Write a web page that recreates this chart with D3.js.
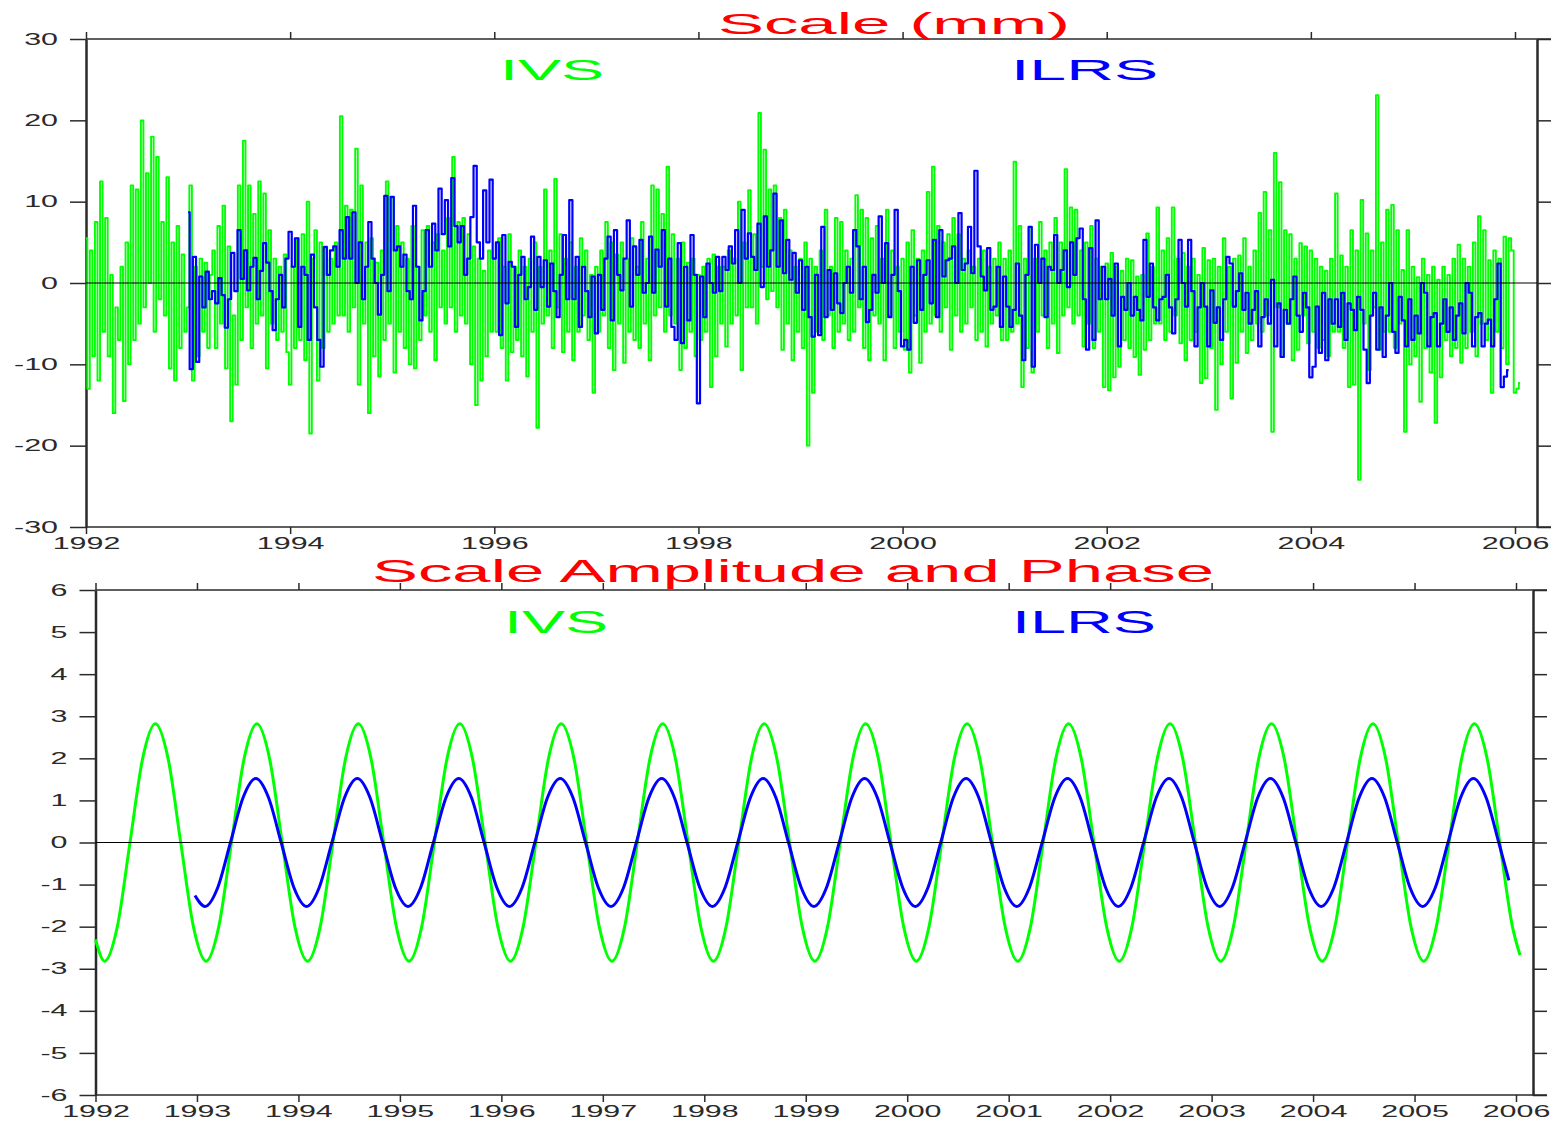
<!DOCTYPE html>
<html>
<head>
<meta charset="utf-8">
<script src="https://cdnjs.cloudflare.com/ajax/libs/d3/7.8.5/d3.min.js"></script>
<style>
  body { margin: 0; background: #fff; }
  svg { display: block; font-family: "Liberation Sans", Arial, sans-serif; }
</style>
</head>
<body>
<div id="chart"></div>
<script>
// ---- data ----
// top panel: scale series (mm), IVS sampled every 1/40 yr from 1992.0, ILRS every 1/32 yr from 1993.0
const ivsStart = 1992.0, ivsStep = 1 / 40;
const ivsScale = [
  5.5,-13,4,-9,7.5,-12,12.5,-6,8,-9, 1,-16,-3,-7,2,-14.5,5,-10,12,-7, 11.5,-5,20,-3,13.5,0,18,-6,15.5,-2, 7.5,-4,13,-10.5,5,-12,7,-8,3.5,-6,
  -3,12,-12,2,-9,3,-6,2.5,-8,1, 4,-8,7,-5,9.5,-10.5,4.5,-17,-4,-12.5, 12,-7,17.5,-3,12,-8,8.5,-5,12.5,-4, 11,-10.5,6.5,-5,3,-7,2,-6,3.5,-8.5,
  -12.5,2,-8,5.5,-7,6,-9.5,10,-18.5,3, 6.5,-12,5,-8,4.5,-6,3,-5,5,-4, 20.5,-4,9.5,-6,9,-3,16.5,-12.5,12,-5, 5,-16,5.5,-9,2.5,-11.5,4,-7,12.5,-5,
  10.5,-11,7,-6,5,-8,3,-10,7,-10.5, 2,-7,6.5,-4,7,-6,5,-9.5,6,-3, 4,-5,8,-3,15.5,-6,7.5,-4,8,-5, 6,-10,4.5,-15,3,-12,1.5,-9,4,-6,
  3,-6,5.5,-8,2,-12,6,-8.5,2,-7, 4,-9,2,-11.5,3,-6,5,-17.8,2,-5, 11.5,-4,4,-8,12.8,-3,6,-8.5,3,-6, 5,-9.5,2,-6,5.5,-4,4,-7,1,-13.5,
  2,-6,4,-4,7.5,-8,5,-10.7,3.5,-5, 5,-9.8,3,-6,5.5,-7,2,-8,7.5,-5, 3,-9.5,12,-4,11.5,-3,8.5,-6,14.3,-4, 6,-5,3,-10.7,5,-8,2.5,-6,3,-9,
  1,-7,2,-6,3,-12.8,3.5,-9,2,-5, 2,-7.8,4,-5,3,-4,10,-10.7,5,-3, 11.4,-3,6,-5,20.9,2,16.4,-2,11.5,-1, 12,-3,8,-8.2,9,-5,4,-9.5,2,-6,
  3,-8,5,-20,3,-13.5,2,-6,4,-7, 9,-4,2,-8,8,-6,7.5,-5,4,-7, 3,-6,10.8,-3,9,-8,8,-9.5,5.5,-4, 7,-5,3,-9.5,9,-4,4,-8,2,-6,
  3,-8.2,5,-11,6.5,-4,3,-9.8,4,-6, 11.2,-5,14.3,-4,7,-6,5,-3,6,-8.2, 8,-4,6,-6,3,-5,4,-3,2,-7, 3,-6,4,-7.8,2,-5,3,-4,5,-7,
  3,-7,4,-6,14.9,-5,7,-12.8,3,-8, 6.9,-11,3,-6,7.5,-4,4,-8,5,-5, 8,-8.6,5,-4,14,-3,9.3,-5,9,-4, 4,-7.8,5,-5,7,-8,3,-6,2,-12.8,
  2.4,-13.2,3.7,-11.6,2,-10.3,1.5,-7,3,-8, 2.8,-9.1,0.8,-11.3,1,-8.2,6.1,-7,2,-5, 9.3,-5,4,-7,5.5,-6,9.3,-4,3,-7.4, 3.7,-9.5,2,-7,3,-6,1,-12.3,4.3,-11.7,
  2.8,-8,3,-15.6,2,-10,5.5,-6,2,-14.2, 3,-9.8,3.4,-6,5.5,-8.6,2,-7,4,-5, 8.6,-6,11.2,-4,6.5,-18.3,16,-3,12.4,-9.1, 6.5,-5,6,-9.5,3,-8.2,4.9,-4,4.5,-7.4,
  4,-6,3,-8,2,-7,1.5,-9,3,-6, 11,-6,3.4,-8,2,-12.8,6.5,-12.5,4,-24.2, 10.2,-5,6.1,-10.7,4,-3,23.1,-8.2,5,-6, 9,-6,9.6,-8,6.5,-5,1.6,-18.3,6.5,-10,
  2,-9,0.7,-14.6,3,-8,1,-11,2,-17.2, 0.4,-11.6,2,-7,1,-9,3,-8,4.7,-9.8, 3,-8,2,-6,5,-9,8.2,-5,6.5,-7, 2.8,-13.5,4,-6,3,-8,5.7,-10,5.5,4,-13.5,-13,-12.3
];

const ilrsStart = 1993.0, ilrsStep = 1 / 32;
const ilrsScale = [
  8.7,-10.6,3.2,-9.7,0.8,-3,1.4,-2, -1,-2.5,0.6,-1.5,-5.5,-2,3.7,-1, 6.5,0.5,4,-0.9,2,3.1,-2,1.5, 4.9,2.5,-1,-5.8,-2,1,-3,3,
  6.3,2,5.5,-5.4,2,1,-7,3.5, -3,-7,-10.3,4.4,1,4,4.5,2, 6.5,3,8.1,3,8.7,0,5,-2, 2,7.5,3,0,-3.9,1,10.7,-1,
  10.6,4,4.5,2,3.5,-1,-2,9.5, 2,-4.6,-1,6.5,2,7.3,4,11.6, 6,10.2,4.5,12.9,7,5,7,1, 3,8.1,14.4,5,3,11.4,5,12.7,
  3,5,-6.4,5.9,-2.5,2.6,2,-5.4, 1,3.2,-2,-0.5,5.7,-3.3,3.2,-0.5, 2.8,-2.9,2.4,-1,-4.2,1,5.9,-2, 10.2,-2,3.2,-5.4,2,-1,-4.2,0.8,
  -6.2,1,-3.3,3,5.7,-4.6,6.5,1, -0.9,3,7.7,-2.9,4.5,1,5.3,-1.2, 0,5.7,-1.2,4.1,2,6.5,-2.9,3, -5.4,-7,4.9,-7.4,2,-4.6,5.9,1,
  -14.8,0.8,-4.2,2.4,0,-1.2,3.2,-1, 3.2,1.6,4.5,2.4,6.5,0,9,3, 6.1,3.2,1.6,7.3,-0.5,8.2,2,4, 11,2,7.7,1.2,5.3,0.4,3.7,-1.2,
  2.8,-3.3,2,-4.2,-6.6,1,-6.4,6.9, -4.2,1.6,-3.3,1.2,-2.5,-3.7,0,2, -1.2,6.5,4.5,-2,2,-4.8,-3.3,1, -1.2,8.2,0,4.9,-4.2,1,9,-1,
  -7.8,-7,-8.2,2,-4.9,2.8,-3.3,1, 2.8,-2.5,5.3,-4.2,6.5,0.8,2.8,3, 4.5,0,8.6,1.6,2.4,6.9,1.2,13.8, 4.5,0.8,-0.9,4.3,-3.3,-2.9,2,-5.4,
  0.8,-2.9,-5.4,-3.3,2.4,-4,-9.5,1, 6.9,-10.3,4.7,0,3,-4.2,2,1.6, 5.9,0,1.6,4,-0.5,5,1,5.5, 6.7,-2,-8.2,4.3,-7,7.7,-2,2,
  -2,0.5,-4,2.4,-7.8,-1.7,-3.3,0, -4,-1.7,-3.3,-4.6,5.3,-1.7,2.4,-3, -4.6,-2,-1.7,1,-3,-6.2,-2,5.3, 0,-2.9,5.3,-1,-7.8,-3,0,-2.9,
  -7.8,-0.9,-4.9,-3,-7,-2,3.2,2.4, -2.9,-1,1.2,-3.3,-1.2,-5,-3.3,-1, -7.8,-4.2,-2,-5,0.4,-7.8,-2.5,-9.1, -3.3,-5,-2,0.8,-4,-6,-1.2,-3,
  -11.6,-10.3,-2.9,-8.6,-1.2,-9.5,-2,-5, -2,-5.4,-1.2,-7,-2.5,-3.3,-5.8,-1.7, -3.3,-8.2,-12.3,-4,-1.2,-8.2,-3,-9.1, -4,0,-6,-8.6,-1.7,-4.6,-7.8,-2,
  -7,-4,-6.2,0,-1.2,-7.8,-4.2,-3.7, -7.8,-5,-2,-6,-3,-7,-4,-2.5, -6.2,0,-1.2,-7.8,-4.2,-3.7,-7.8,-5, -4.5,-7.8,-2,2.4,-12.8,-11.5,-10.7
];

// bottom panel: fitted annual signal, [year, mm] read at peaks, troughs, zero crossings and between
const ivsFit = [
  [1992.0,-2.3],[1992.09,-2.82],[1992.215,-2],[1992.34,0],[1992.465,2],[1992.59,2.82],[1992.715,2],[1992.84,0],[1992.965,-2],
  [1993.09,-2.82],[1993.215,-2],[1993.34,0],[1993.465,2],[1993.59,2.82],[1993.715,2],[1993.84,0],[1993.965,-2],
  [1994.09,-2.82],[1994.215,-2],[1994.34,0],[1994.465,2],[1994.59,2.82],[1994.715,2],[1994.84,0],[1994.965,-2],
  [1995.09,-2.82],[1995.215,-2],[1995.34,0],[1995.465,2],[1995.59,2.82],[1995.715,2],[1995.84,0],[1995.965,-2],
  [1996.09,-2.82],[1996.215,-2],[1996.34,0],[1996.465,2],[1996.59,2.82],[1996.715,2],[1996.84,0],[1996.965,-2],
  [1997.09,-2.82],[1997.215,-2],[1997.34,0],[1997.465,2],[1997.59,2.82],[1997.715,2],[1997.84,0],[1997.965,-2],
  [1998.09,-2.82],[1998.215,-2],[1998.34,0],[1998.465,2],[1998.59,2.82],[1998.715,2],[1998.84,0],[1998.965,-2],
  [1999.09,-2.82],[1999.215,-2],[1999.34,0],[1999.465,2],[1999.59,2.82],[1999.715,2],[1999.84,0],[1999.965,-2],
  [2000.09,-2.82],[2000.215,-2],[2000.34,0],[2000.465,2],[2000.59,2.82],[2000.715,2],[2000.84,0],[2000.965,-2],
  [2001.09,-2.82],[2001.215,-2],[2001.34,0],[2001.465,2],[2001.59,2.82],[2001.715,2],[2001.84,0],[2001.965,-2],
  [2002.09,-2.82],[2002.215,-2],[2002.34,0],[2002.465,2],[2002.59,2.82],[2002.715,2],[2002.84,0],[2002.965,-2],
  [2003.09,-2.82],[2003.215,-2],[2003.34,0],[2003.465,2],[2003.59,2.82],[2003.715,2],[2003.84,0],[2003.965,-2],
  [2004.09,-2.82],[2004.215,-2],[2004.34,0],[2004.465,2],[2004.59,2.82],[2004.715,2],[2004.84,0],[2004.965,-2],
  [2005.09,-2.82],[2005.215,-2],[2005.34,0],[2005.465,2],[2005.59,2.82],[2005.715,2],[2005.84,0],[2005.965,-2],
  [2006.04,-2.68]
];
const ilrsFit = [
  [1992.98,-1.26],[1993.08,-1.52],
  [1993.205,-1.07],[1993.33,0],[1993.455,1.07],[1993.58,1.52],[1993.705,1.07],[1993.83,0],[1993.955,-1.07],[1994.08,-1.52],
  [1994.205,-1.07],[1994.33,0],[1994.455,1.07],[1994.58,1.52],[1994.705,1.07],[1994.83,0],[1994.955,-1.07],[1995.08,-1.52],
  [1995.205,-1.07],[1995.33,0],[1995.455,1.07],[1995.58,1.52],[1995.705,1.07],[1995.83,0],[1995.955,-1.07],[1996.08,-1.52],
  [1996.205,-1.07],[1996.33,0],[1996.455,1.07],[1996.58,1.52],[1996.705,1.07],[1996.83,0],[1996.955,-1.07],[1997.08,-1.52],
  [1997.205,-1.07],[1997.33,0],[1997.455,1.07],[1997.58,1.52],[1997.705,1.07],[1997.83,0],[1997.955,-1.07],[1998.08,-1.52],
  [1998.205,-1.07],[1998.33,0],[1998.455,1.07],[1998.58,1.52],[1998.705,1.07],[1998.83,0],[1998.955,-1.07],[1999.08,-1.52],
  [1999.205,-1.07],[1999.33,0],[1999.455,1.07],[1999.58,1.52],[1999.705,1.07],[1999.83,0],[1999.955,-1.07],[2000.08,-1.52],
  [2000.205,-1.07],[2000.33,0],[2000.455,1.07],[2000.58,1.52],[2000.705,1.07],[2000.83,0],[2000.955,-1.07],[2001.08,-1.52],
  [2001.205,-1.07],[2001.33,0],[2001.455,1.07],[2001.58,1.52],[2001.705,1.07],[2001.83,0],[2001.955,-1.07],[2002.08,-1.52],
  [2002.205,-1.07],[2002.33,0],[2002.455,1.07],[2002.58,1.52],[2002.705,1.07],[2002.83,0],[2002.955,-1.07],[2003.08,-1.52],
  [2003.205,-1.07],[2003.33,0],[2003.455,1.07],[2003.58,1.52],[2003.705,1.07],[2003.83,0],[2003.955,-1.07],[2004.08,-1.52],
  [2004.205,-1.07],[2004.33,0],[2004.455,1.07],[2004.58,1.52],[2004.705,1.07],[2004.83,0],[2004.955,-1.07],[2005.08,-1.52],
  [2005.205,-1.07],[2005.33,0],[2005.455,1.07],[2005.58,1.52],[2005.705,1.07],[2005.83,0],[2005.93,-0.9]
];

const topYearTicks = [1992, 1994, 1996, 1998, 2000, 2002, 2004, 2006];
const topValueTicks = [-30, -20, -10, 0, 10, 20, 30];
const bottomYearTicks = d3.range(1992, 2007);
const bottomValueTicks = d3.range(-6, 7);

const GREEN = "#00ff00", BLUE = "#0000ff", RED = "#ff0000", INK = "#2a2a2a";

// ---- drawing ----
const svg = d3.select("#chart").append("svg")
    .attr("width", 1558).attr("height", 1122);

// the source figure has horizontally stretched lettering
function stretch(sel, k) {
    sel.each(function () {
        const w = this.getComputedTextLength();
        d3.select(this).attr("textLength", w * k).attr("lengthAdjust", "spacingAndGlyphs");
    });
}

function panel(p) {
    const g = svg.append("g");
    const x = p.x, y = p.y;
    const top = y.range()[1], bottom = y.range()[0], left = x.range()[0];

    // left axis with labels
    g.append("g")
        .attr("transform", `translate(${left},0)`)
        .call(d3.axisLeft(y).tickValues(p.yTicks).tickSize(16).tickPadding(12).tickSizeOuter(0).tickFormat(d => String(d)))
        .call(a => a.select(".domain").attr("stroke", INK).attr("stroke-width", 2.5))
        .call(a => a.selectAll(".tick line").attr("stroke", INK).attr("stroke-width", 1.5))
        .call(a => a.selectAll("text").attr("font-size", 16).attr("fill", INK).attr("font-family", "Liberation Sans, Arial, sans-serif").call(stretch, 1.9));

    // right axis, ticks only
    g.append("g")
        .attr("transform", `translate(${p.rightX},0)`)
        .call(d3.axisRight(y).tickValues(p.yTicks).tickSize(14).tickSizeOuter(0).tickFormat(""))
        .call(a => a.select(".domain").attr("stroke", INK).attr("stroke-width", 2.5))
        .call(a => a.selectAll(".tick line").attr("stroke", INK).attr("stroke-width", 1.5));

    // top border ticks
    g.append("g")
        .attr("transform", `translate(0,${top})`)
        .call(d3.axisTop(x).tickValues(p.xTicks).tickSize(7).tickFormat(""))
        .call(a => a.select(".domain").remove())
        .call(a => a.selectAll(".tick line").attr("stroke", INK).attr("stroke-width", 1.5));

    // bottom axis with year labels
    g.append("g")
        .attr("transform", `translate(0,${bottom})`)
        .call(d3.axisBottom(x).tickValues(p.xTicks).tickSize(7).tickPadding(4).tickFormat(d3.format("d")))
        .call(a => a.select(".domain").remove())
        .call(a => a.selectAll(".tick line").attr("stroke", INK).attr("stroke-width", 1.5))
        .call(a => a.selectAll("text").attr("font-size", 16).attr("fill", INK).attr("font-family", "Liberation Sans, Arial, sans-serif").call(stretch, 1.9));

    // frame lines run past the right axis
    [top, bottom].forEach(yy => g.append("line")
        .attr("x1", left).attr("x2", p.lineEnd).attr("y1", yy).attr("y2", yy)
        .attr("stroke", INK).attr("stroke-width", 1.5));

    const line = d3.line().x(d => x(d[0])).y(d => y(d[1])).curve(p.curve);
    p.series.forEach(s => g.append("path")
        .attr("d", line(s.points))
        .attr("fill", "none")
        .attr("stroke", s.color)
        .attr("stroke-width", s.width)
        .attr("stroke-linejoin", "round"));

    // zero line
    g.append("line")
        .attr("x1", left).attr("x2", p.rightX).attr("y1", y(0)).attr("y2", y(0))
        .attr("stroke", "#000").attr("stroke-width", 1.2);
}

const ivsPoints = ivsScale.map((v, i) => [ivsStart + i * ivsStep, v]);
const ilrsPoints = ilrsScale.map((v, i) => [ilrsStart + i * ilrsStep, v]);

panel({
    x: d3.scaleLinear().domain([1992, 2006]).range([86, 1515]),
    y: d3.scaleLinear().domain([-30, 30]).range([527, 39]),
    rightX: 1537, lineEnd: 1551,
    xTicks: topYearTicks, yTicks: topValueTicks,
    curve: d3.curveStep,
    series: [
        {points: ivsPoints, color: GREEN, width: 1.9},
        {points: ilrsPoints, color: BLUE, width: 2.2}
    ]
});

panel({
    x: d3.scaleLinear().domain([1992, 2006]).range([95.5, 1516]),
    y: d3.scaleLinear().domain([-6, 6]).range([1095, 590]),
    rightX: 1533, lineEnd: 1547,
    xTicks: bottomYearTicks, yTicks: bottomValueTicks,
    curve: d3.curveMonotoneX,
    series: [
        {points: ivsFit, color: GREEN, width: 3},
        {points: ilrsFit, color: BLUE, width: 3}
    ]
});

// titles and series names
const labels = [
    {text: "Scale (mm)", x: 718, y: 34, size: 30, len: 352, color: RED},
    {text: "IVS", x: 500, y: 80, size: 30, len: 104, color: GREEN},
    {text: "ILRS", x: 1011, y: 80, size: 30, len: 147, color: BLUE},
    {text: "Scale Amplitude and Phase", x: 372, y: 582, size: 32, len: 842, color: RED},
    {text: "IVS", x: 504, y: 633, size: 31, len: 104, color: GREEN},
    {text: "ILRS", x: 1012, y: 633, size: 31, len: 144, color: BLUE}
];
svg.selectAll(".lbl")
    .data(labels)
    .join("text")
    .attr("class", "lbl")
    .attr("x", d => d.x).attr("y", d => d.y)
    .attr("font-size", d => d.size)
    .attr("fill", d => d.color)
    .attr("textLength", d => d.len)
    .attr("lengthAdjust", "spacingAndGlyphs")
    .text(d => d.text);
</script>
</body>
</html>
